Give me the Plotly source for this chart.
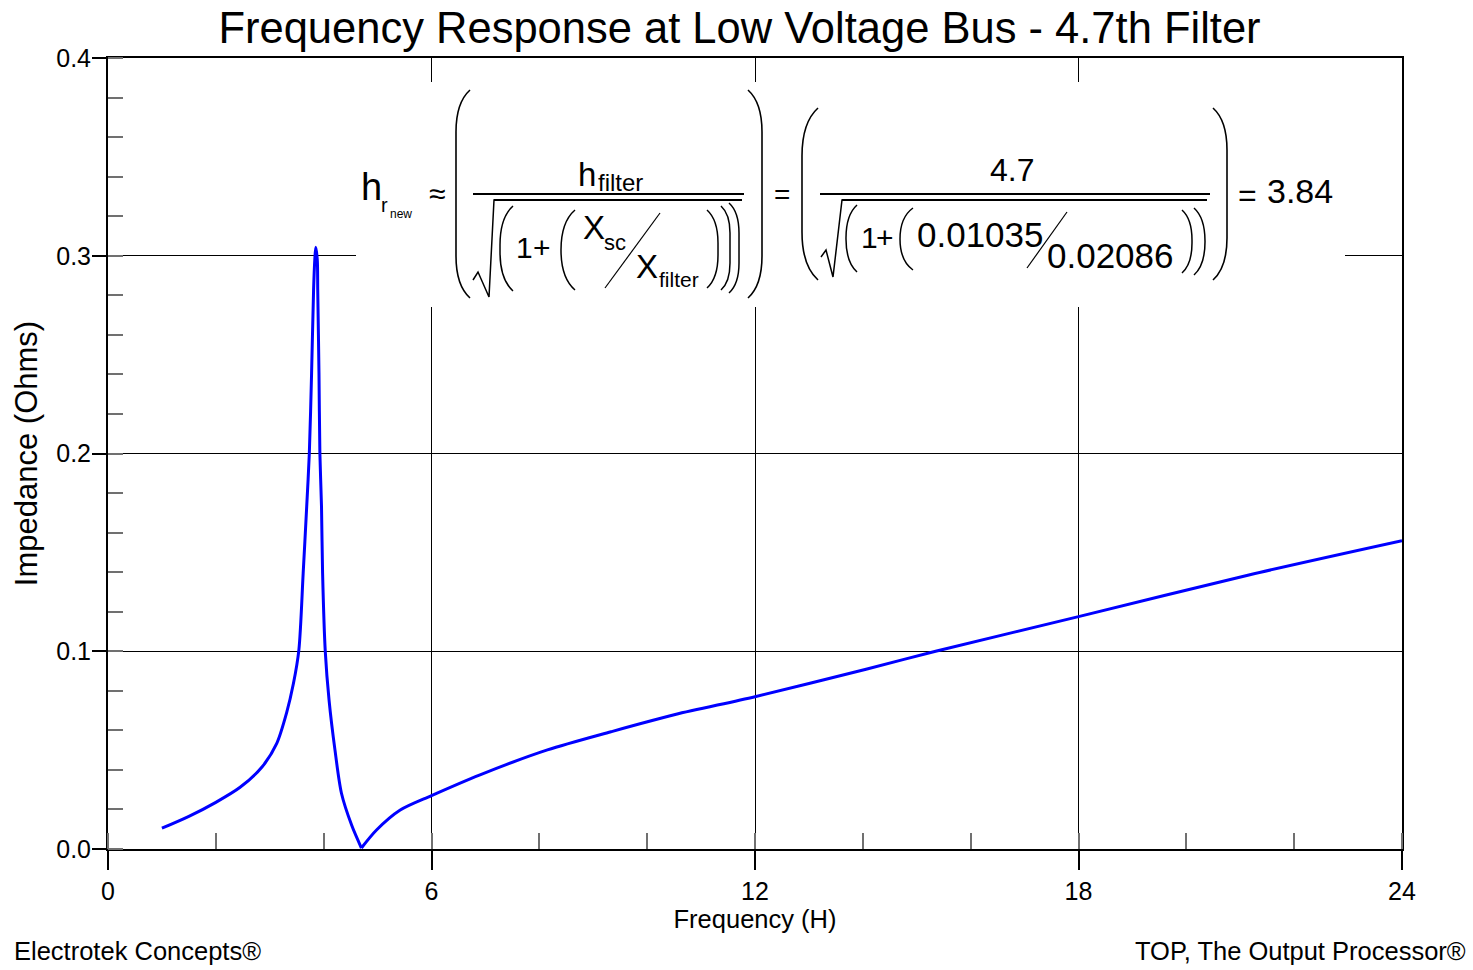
import plotly.graph_objects as go

# ---------------- data ----------------
freq = [1.0, 1.5, 2.0, 2.45, 2.86, 3.13, 3.31, 3.44, 3.54, 3.62, 3.685, 3.734,
        3.776, 3.813, 3.835, 3.853, 3.882, 3.89, 3.913, 3.93, 3.96, 3.98, 4.03,
        4.10, 4.21, 4.33, 4.52, 4.70, 4.98, 5.42, 6.0, 6.9, 8.15, 9.33, 10.52,
        12.0, 14.06, 15.35, 18.0, 21.16, 24.0]
impedance = [0.0105, 0.0165, 0.0236, 0.0312, 0.0416, 0.0534, 0.0686, 0.0838,
             0.1006, 0.1395, 0.173, 0.200, 0.2407, 0.2827, 0.2978, 0.3043,
             0.2978, 0.2827, 0.2407, 0.200, 0.173, 0.1395, 0.0998, 0.0753,
             0.050, 0.0282, 0.0120, 0.0005, 0.0096, 0.0197, 0.0270, 0.0375,
             0.0501, 0.0593, 0.0680, 0.0770, 0.0909, 0.1000, 0.1175, 0.1386,
             0.1559]
x_ticks = [0, 6, 12, 18, 24]
y_ticks = [0.0, 0.1, 0.2, 0.3, 0.4]
y_tick_labels = ["0.0", "0.1", "0.2", "0.3", "0.4"]

TITLE = "Frequency Response at Low Voltage Bus - 4.7th Filter"
X_TITLE = "Frequency (H)"
Y_TITLE = "Impedance (Ohms)"
FOOT_LEFT = "Electrotek Concepts®"
FOOT_RIGHT = "TOP, The Output Processor®"

FONT = "Arial, 'Liberation Sans', sans-serif"
W, H = 1473, 970
L, R, T, B = 108, 1402, 58, 849   # plot area in pixels


def px(x):
    return (x - L) / (R - L)


def py(y):
    return (B - y) / (B - T)


fig = go.Figure()
# the curve has a sharp notch at its minimum: draw it as two smooth pieces
k = impedance.index(min(impedance))
for xs, ys in ((freq[:k + 1], impedance[:k + 1]), (freq[k:], impedance[k:])):
    fig.add_trace(go.Scatter(x=xs, y=ys, mode="lines",
                             line=dict(color="#0000FF", width=3,
                                       shape="spline", smoothing=0.8),
                             showlegend=False, hoverinfo="skip"))

shapes = []
annotations = []

# white box behind the formula
shapes.append(dict(type="rect", xref="paper", yref="paper",
                   x0=px(356), x1=px(1345), y0=py(307), y1=py(82),
                   fillcolor="white", line=dict(width=0), layer="above"))


def line(x0, y0, x1, y1, w=1.5):
    shapes.append(dict(type="line", xref="paper", yref="paper",
                       x0=px(x0), y0=py(y0), x1=px(x1), y1=py(y1),
                       line=dict(color="black", width=w), layer="above"))


def path(pts_cmd, w=1.5):
    shapes.append(dict(type="path", xref="paper", yref="paper", path=pts_cmd,
                       line=dict(color="black", width=w), layer="above"))


def P(x, y):
    return f"{px(x):.5f},{py(y):.5f}"


def lparen(xl, xr, yt, yb, w=1.5):
    hook = min(3.0 * (xr - xl), (yb - yt) / 2)
    d = (f"M{P(xr, yt)} Q{P(xl, yt + hook * 0.3)} {P(xl, yt + hook)} "
         f"L{P(xl, yb - hook)} Q{P(xl, yb - hook * 0.3)} {P(xr, yb)}")
    path(d, w)


def rparen(xl, xr, yt, yb, w=1.5):
    hook = min(3.0 * (xr - xl), (yb - yt) / 2)
    d = (f"M{P(xl, yt)} Q{P(xr, yt + hook * 0.3)} {P(xr, yt + hook)} "
         f"L{P(xr, yb - hook)} Q{P(xr, yb - hook * 0.3)} {P(xl, yb)}")
    path(d, w)


def text(s, x, base, fs, anchor="left"):
    ybox = base + 0.212 * fs + 1
    annotations.append(dict(text=s, x=px(x), y=py(ybox), xref="paper",
                            yref="paper", xanchor=anchor, yanchor="bottom",
                            showarrow=False, font=dict(size=fs, family=FONT,
                                                       color="black")))


# ---- formula 1 ----
text("h", 359, 201, 38)
text("r", 379, 213, 20)
text("new", 388, 219, 12)
text("≈", 437, 205, 30, "center")
lparen(456, 470, 90, 298, 1.6)
rparen(748, 762, 90, 298, 1.6)
text("h", 576, 187, 33)
text("filter", 596, 192, 24)
line(473, 194, 744, 194, 2)
path(f"M{P(473, 280)} L{P(478, 272)} L{P(489, 297)} L{P(494, 200)} L{P(742, 200)}", 1.5)
line(494, 200, 742, 200, 2)
lparen(500, 513, 206, 291)
text("1", 514, 259, 30)
text("+", 531, 259, 30)
lparen(561, 575, 210, 290)
text("X", 581, 240, 33)
text("sc", 602, 251, 22)
line(605, 288, 660, 213, 1.2)
text("X", 634, 279, 33)
text("filter", 657, 288, 21)
rparen(707, 718, 210, 288)
rparen(721, 730, 206, 290)
rparen(729, 739, 203, 293)
text("=", 782, 205, 28, "center")

# ---- formula 2 ----
lparen(802, 818, 108, 280, 1.6)
rparen(1213, 1227, 108, 280, 1.6)
text("4.7", 1012, 182, 32, "center")
line(820, 194, 1210, 194, 2)
path(f"M{P(821, 257)} L{P(826, 250)} L{P(833, 277)} L{P(842, 200)} L{P(1207, 200)}", 1.5)
line(842, 200, 1207, 200, 2)
lparen(846, 857, 205, 272)
text("1", 859, 249, 30)
text("+", 874, 249, 30)
lparen(900, 913, 208, 270)
text("0.01035", 915, 248, 35)
line(1027, 268, 1067, 212, 1.2)
text("0.02086", 1045, 269, 35)
rparen(1182, 1192, 210, 273)
rparen(1194, 1205, 208, 275)
text("=", 1247, 207, 32, "center")
text("3.84", 1265, 204, 34)

# ---- footers ----
annotations.append(dict(text=FOOT_LEFT, x=px(12), y=py(967), xref="paper",
                        yref="paper", xanchor="left", yanchor="bottom",
                        showarrow=False, font=dict(size=25.5, family=FONT)))
annotations.append(dict(text=FOOT_RIGHT, x=px(1468), y=py(967), xref="paper",
                        yref="paper", xanchor="right", yanchor="bottom",
                        showarrow=False, font=dict(size=25.5, family=FONT)))

axis_common = dict(showline=True, linewidth=2, linecolor="black", mirror=True,
                   showgrid=True, gridcolor="black", gridwidth=1,
                   zeroline=False, ticks="outside", tickcolor="black",
                   tickwidth=1.5, tickfont=dict(size=25, family=FONT,
                                                color="black"))

fig.update_layout(
    width=W, height=H, autosize=False,
    margin=dict(l=L, r=W - R, t=T, b=H - B, pad=0),
    paper_bgcolor="white", plot_bgcolor="white",
    font=dict(family=FONT, color="black", size=25),
    title=dict(text=TITLE, x=739.5 / W, xref="container", xanchor="center",
               y=1 - 28 / H, yref="container", yanchor="middle",
               font=dict(size=43.5, family=FONT, color="black")),
    xaxis=dict(range=[0, 24], tickmode="array", tickvals=x_ticks,
               ticktext=[str(v) for v in x_ticks], ticklen=19,
               minor=dict(tick0=0, dtick=2, ticks="inside", ticklen=16,
                          tickcolor="#707070", tickwidth=1.5, showgrid=False),
               title=dict(text=X_TITLE, font=dict(size=25.5, family=FONT),
                          standoff=4),
               **axis_common),
    yaxis=dict(range=[0, 0.4], tickmode="array", tickvals=y_ticks,
               ticktext=y_tick_labels, ticklen=14, ticklabelstandoff=-4,
               minor=dict(tick0=0, dtick=0.02, ticks="inside", ticklen=15,
                          tickcolor="#707070", tickwidth=1.5, showgrid=False),
               title=dict(text=Y_TITLE, font=dict(size=31, family=FONT),
                          standoff=9),
               **axis_common),
    shapes=shapes,
    annotations=annotations,
)

fig.write_html("out.html")
